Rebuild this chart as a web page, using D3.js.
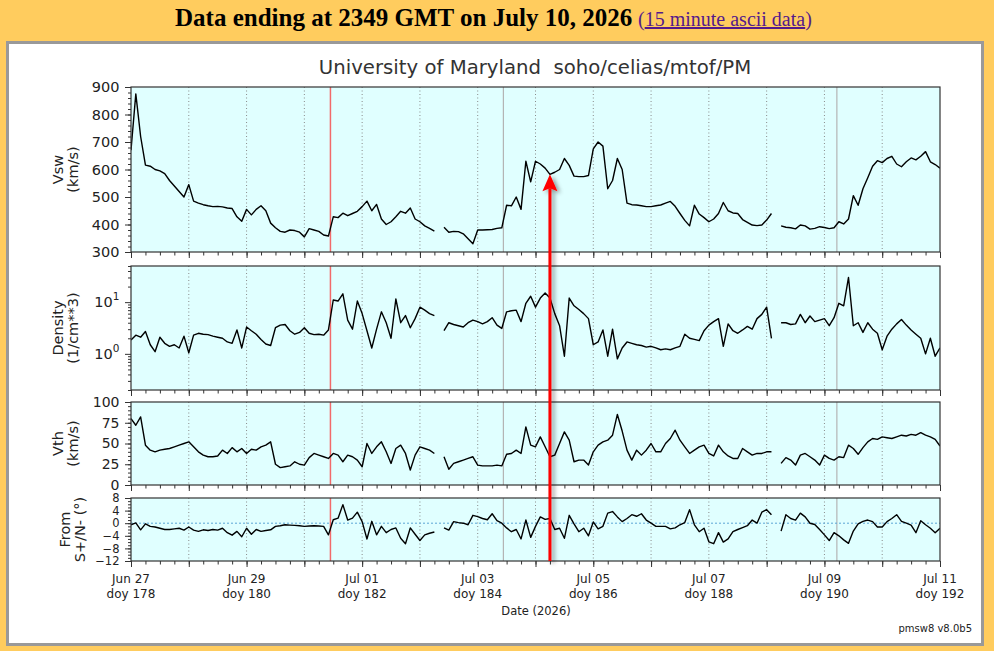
<!DOCTYPE html>
<html>
<head>
<meta charset="utf-8">
<script src="https://cdn.jsdelivr.net/npm/d3@7"></script>
<style>
  body { margin: 0; background: #ffcc5e; }
  svg { display: block; }
  text { font-family: "DejaVu Sans", sans-serif; }
</style>
</head>
<body>
<svg id="chart" width="994" height="651"></svg>
<script>
// 2-hour samples starting Jun 27 2026 00:00 UTC (169 points, up to Jul 11 00:00)
const startTime = Date.UTC(2026, 5, 27);
const endTime = Date.UTC(2026, 6, 11);
const stepHours = 2;

const vswValues = [
  670, 875, 720, 616, 612, 600, 595, 585, 560, 540, 520, 500,
  545, 485, 478, 472, 468, 465, 466, 464, 460, 458, 428, 412,
  455, 435, 455, 468, 450, 405, 388, 375, 372, 380, 378, 372,
  355, 385, 380, 375, 362, 358, 428, 425, 441, 432, 440, 448,
  465, 485, 450, 473, 420, 400, 410, 428, 448, 441, 460, 420,
  410, 395, 386, 376, null, 390, 372, 375, 374, 366, 348, 330,
  380, 380, 381, 382, 386, 388, 470, 468, 500, 455, 630, 555,
  630, 620, 605, 582, 590, 600, 640, 615, 576, 574, 574, 578,
  675, 700, 685, 530, 560, 640, 600, 478, 472, 471, 468, 465,
  465, 468, 471, 478, 484, 466, 440, 415, 395, 470, 438, 425,
  410, 420, 440, 480, 450, 442, 440, 418, 408, 398, 396, 398,
  416, 440, null, 395, 390, 388, 384, 398, 395, 383, 386, 392,
  389, 385, 388, 410, 402, 420, 505, 470, 530, 570, 612, 632,
  625, 640, 648, 620, 610, 628, 642, 635, 648, 665, 628, 618, 605
];

const densityValues = [
  1.85, 2.3, 2.1, 2.7, 1.5, 1.1, 2.1, 1.6, 1.4, 1.5, 1.3, 2.2,
  1.05, 2.3, 2.5, 2.4, 2.35, 2.2, 2.1, 2.0, 1.7, 1.6, 2.9, 1.3,
  3.3, 2.8, 2.4, 1.9, 1.55, 1.45, 3.2, 3.6, 3.7, 2.8, 2.4, 2.6,
  3.2, 2.5, 2.35, 2.4, 2.3, 2.9, 11, 10.5, 14.5, 4.5, 3.0, 10.5,
  6.0, 2.8, 1.3, 3.0, 6.5, 4.0, 2.0, 11.5, 4.0, 5.5, 3.2, 4.8,
  8.0, 7.0, 6.0, 5.5, null, 2.8, 4.0, 3.7, 3.5, 3.3, 4.0, 4.5,
  4.2, 3.8, 4.2, 5.0, 3.6, 3.1, 6.5, 6.8, 7.0, 4.2, 9.5, 13,
  8.0, 12, 15, 12, 6.0, 3.5, 0.9, 12, 8.5, 7.2, 6.0, 4.8,
  1.5, 1.7, 2.9, 0.9, 3.0, 0.8, 1.3, 1.7, 1.6, 1.5, 1.45, 1.35,
  1.4, 1.3, 1.2, 1.25, 1.2, 1.3, 1.4, 2.4, 2.0, 1.9, 1.8, 2.8,
  3.6, 4.2, 4.8, 1.4, 3.8, 2.8, 2.5, 2.9, 3.4, 3.0, 4.8, 5.8,
  8.0, 2.0, null, 4.0, 4.0, 3.7, 3.8, 5.8, 4.0, 5.4, 4.2, 4.5,
  4.8, 3.5, 5.0, 9.5, 8.5, 30, 3.5, 4.0, 2.6, 4.0, 3.0, 2.5,
  1.2, 2.2, 3.0, 3.8, 4.6, 3.6, 2.9, 2.4, 2.0, 1.0, 2.0, 0.9, 1.3
];

const vthValues = [
  80, 72, 82, 48, 42, 40, 42, 43, 44, 46, 48, 50,
  52, 46, 40, 36, 34, 34, 35, 42, 38, 45, 40, 44,
  38, 43, 42, 46, 48, 52, 25, 21, 22, 23, 28, 25,
  24, 33, 38, 36, 34, 32, 38, 36, 28, 36, 34, 30,
  22, 50, 38, 46, 52, 40, 26, 44, 48, 38, 18, 36,
  46, 44, 42, 38, null, 34, 19, 26, 28, 30, 32, 34,
  24, 23, 23, 23, 24, 23, 37, 38, 42, 38, 70, 48,
  46, 58, 46, 34, 36, 50, 64, 54, 28, 30, 30, 24,
  40, 48, 52, 54, 60, 85, 65, 42, 30, 42, 36, 42,
  50, 40, 40, 50, 56, 66, 54, 46, 38, 42, 46, 48,
  38, 35, 48, 40, 35, 32, 32, 44, 40, 36, 38, 38,
  40, 40, null, 26, 33, 30, 24, 36, 38, 34, 30, 24,
  36, 32, 30, 34, 33, 48, 44, 37, 45, 52, 56, 55,
  58, 57, 56, 58, 60, 59, 61, 60, 63, 60, 58, 55, 47
];

const angleValues = [
  -0.5, 0.1, -2.1, -0.2, -1.0, -1.2, -1.6, -2.0, -2.0, -1.8, -1.6, -2.2,
  -1.2, -2.2, -2.6, -2.1, -2.3, -2.0, -2.2, -1.6, -3.0, -3.8, -2.6, -4.3,
  -1.6, -3.5, -2.0, -2.6, -2.3, -2.1, -1.0, -0.8, -0.5, -0.6, -0.7, -0.8,
  -1.0, -0.9, -0.8, -0.9, -1.0, -3.7, 1.1, 1.6, 5.9, 1.0, 1.6, 3.5,
  0.5, -5.0, 0.6, -3.7, -1.0, -3.0, -2.0, -1.5, -4.8, -6.5, -1.5, -3.5,
  -5.5, -3.7, -3.2, -2.8, null, -1.5, -2.2, 0.5, 0.2, 0, -0.5, 2.5,
  2.1, 1.5, 1.1, 3.0, 0.8, 0, -1.5, -2.7, -2.0, -5.0, 1.0, -4.5,
  -1.0, 2.0, 1.2, 1.5, -2.0, -1.6, -4.8, 2.5, -0.2, -2.7, -1.6, -4.0,
  0.4, -1.8, -1.0, 3.2, 3.7, 2.0, 0.5, 1.5, 2.7, 2.2, 3.0, 1.0,
  0, -1.0, -1.0, -1.0, -1.8, -1.5, -0.5, 0.2, 4.3, -0.5, -2.7, -1.6,
  -5.9, -6.5, -3.0, -6.0, -5.0, -2.7, -2.0, -1.4, -0.8, 1.0, 0, 3.5,
  4.3, 2.7, null, -2.5, 2.7, 1.5, 1.0, 3.2, 2.0, 0, -0.4, -2.0,
  -3.7, -5.5, -3.0, -4.0, -5.3, -6.4, -2.5, -0.2, 0.6, 1.0, 0.5, -1.2,
  -1.2, 0.5, 1.5, 2.7, 0.6, 0, -0.6, -3.0, 0.8, -0.5, -1.6, -3.0, -1.6
];

// y axis ticks
const vswTicks = [300, 400, 500, 600, 700, 800, 900];
const densityTicks = [1, 10];
const vthTicks = [0, 25, 50, 75, 100];
const angleTicks = [-12, -8, -4, 0, 4, 8];

// event markers
const redLineTime = Date.UTC(2026, 5, 30, 10, 50);
const grayLineTimes = [Date.UTC(2026, 6, 3, 10, 40), Date.UTC(2026, 6, 9, 5, 10)];
const arrowTime = Date.UTC(2026, 6, 4, 6, 0);
const arrowValue = 583;

const svg = d3.select('#chart');
const left = 131, right = 940;

const x = d3.scaleUtc()
  .domain([new Date(startTime), new Date(endTime)])
  .range([left, right]);

function toPoints(values) {
  return values.map((v, i) => ({ t: new Date(startTime + i * stepHours * 3600e3), v: v }));
}

const panels = [
  { values: vswValues, y: d3.scaleLinear().domain([300, 900]).range([252, 87]),
    ticks: vswTicks, minor: d3.range(300, 901, 20), fmt: d => d, tickFont: 14.5,
    labels: ['Vsw', '(km/s)'], labelX: [62.5, 78] },
  { values: densityValues, y: d3.scaleLog().domain([0.2, 50]).range([390, 266]),
    ticks: densityTicks,
    minor: d3.range(2, 10).map(v => v / 10).concat(d3.range(2, 10), [20, 30, 40, 50]),
    fmt: null, tickFont: 14.5, labels: ['Density', '(1/cm**3)'], labelX: [62.5, 78] },
  { values: vthValues, y: d3.scaleLinear().domain([0, 100]).range([485, 402]),
    ticks: vthTicks, minor: d3.range(0, 101, 5), fmt: d => d, tickFont: 14,
    labels: ['Vth', '(km/s)'], labelX: [62.5, 78] },
  { values: angleValues, y: d3.scaleLinear().domain([-12, 8]).range([561, 498]),
    ticks: angleTicks, minor: d3.range(-12, 9, 1), fmt: d => d < 0 ? '\u2212' + Math.abs(d) : d,
    tickFont: 11.5, labels: ['From', 'S+/N- (\u00b0)'], labelX: [70, 84.5], zeroLine: true }
];

// defs: clip paths and arrow shadow
const defs = svg.append('defs');
const shadow = defs.append('filter').attr('id', 'shadow')
  .attr('x', '-50%').attr('y', '-10%').attr('width', '200%').attr('height', '120%');
shadow.append('feDropShadow')
  .attr('dx', 3).attr('dy', 2).attr('stdDeviation', 2)
  .attr('flood-color', '#000').attr('flood-opacity', 0.4);

// page title
svg.append('text')
  .attr('x', 175).attr('y', 26)
  .style('font-family', '"Liberation Serif", "Times New Roman", serif')
  .style('font-weight', 'bold')
  .style('font-size', '25px')
  .attr('fill', '#000')
  .text('Data ending at 2349 GMT on July 10, 2026');

const sub = svg.append('text')
  .attr('x', 638).attr('y', 26)
  .style('font-family', '"Liberation Serif", "Times New Roman", serif')
  .style('font-size', '20px')
  .attr('fill', '#551a8b');
sub.append('tspan').text('(');
sub.append('tspan').style('text-decoration', 'underline').text('15 minute ascii data');
sub.append('tspan').text(')');

// white image box
svg.append('rect')
  .attr('x', 7.5).attr('y', 42.5).attr('width', 975).attr('height', 602)
  .attr('fill', '#fff').attr('stroke', '#999').attr('stroke-width', 3);

svg.append('text')
  .attr('x', 535).attr('y', 74)
  .attr('text-anchor', 'middle')
  .style('font-size', '19.7px')
  .style('white-space', 'pre')
  .attr('fill', '#333')
  .text('University of Maryland  soho/celias/mtof/PM');

const line = d3.line()
  .defined(d => d.v != null)
  .x(d => x(d.t));

const dayTicks = d3.utcDay.range(new Date(startTime), new Date(endTime + 1));
const sixHourTicks = d3.utcHour.every(6).range(new Date(startTime), new Date(endTime + 1));

panels.forEach((p, k) => {
  const [y0, y1] = p.y.range();
  const top = y1, bottom = y0, h = bottom - top;
  const g = svg.append('g');

  defs.append('clipPath').attr('id', 'clip' + k)
    .append('rect').attr('x', left).attr('y', top).attr('width', right - left).attr('height', h);

  g.append('rect')
    .attr('x', left).attr('y', top).attr('width', right - left).attr('height', h)
    .attr('fill', '#e0ffff');

  // daily dotted grid
  g.selectAll('.grid')
    .data(dayTicks.slice(1, -1))
    .join('line')
    .attr('x1', d => x(d)).attr('x2', d => x(d))
    .attr('y1', top).attr('y2', bottom)
    .attr('stroke', '#8a8a8a').attr('stroke-width', 1)
    .attr('stroke-dasharray', '1,2.5');

  // event lines
  g.selectAll('.gray')
    .data(grayLineTimes)
    .join('line')
    .attr('x1', d => x(new Date(d))).attr('x2', d => x(new Date(d)))
    .attr('y1', top).attr('y2', bottom)
    .attr('stroke', '#b4b4b4').attr('stroke-width', 1.2);

  g.append('line')
    .attr('x1', x(new Date(redLineTime))).attr('x2', x(new Date(redLineTime)))
    .attr('y1', top).attr('y2', bottom)
    .attr('stroke', '#f26a6a').attr('stroke-width', 1.5);

  if (p.zeroLine) {
    g.append('line')
      .attr('x1', left).attr('x2', right)
      .attr('y1', p.y(0)).attr('y2', p.y(0))
      .attr('stroke', '#5aa6d6').attr('stroke-width', 1)
      .attr('stroke-dasharray', '2,2');
  }

  g.append('path')
    .datum(toPoints(p.values))
    .attr('clip-path', `url(#clip${k})`)
    .attr('fill', 'none')
    .attr('stroke', '#000')
    .attr('stroke-width', 1.4)
    .attr('stroke-linejoin', 'round')
    .attr('d', line.y(d => p.y(d.v)));

  g.append('rect')
    .attr('x', left).attr('y', top).attr('width', right - left).attr('height', h)
    .attr('fill', 'none').attr('stroke', '#333').attr('stroke-width', 1.2);

  // y axis
  const yMinor = g.append('g')
    .attr('transform', `translate(${left},0)`)
    .call(d3.axisLeft(p.y).tickValues(p.minor).tickSize(3).tickFormat(''));
  yMinor.select('.domain').remove();

  const yAxis = g.append('g')
    .attr('transform', `translate(${left},0)`)
    .call(d3.axisLeft(p.y).tickValues(p.ticks).tickSize(6).tickPadding(5.5)
      .tickFormat(p.fmt ? p.fmt : () => ''));
  yAxis.select('.domain').remove();
  yAxis.selectAll('text')
    .attr('font-family', '"DejaVu Sans", sans-serif')
    .attr('font-size', p.tickFont)
    .attr('fill', '#222');
  if (!p.fmt) {
    yAxis.selectAll('.tick text').each(function (d) {
      const t = d3.select(this).text('10');
      t.append('tspan').attr('dy', -7).attr('font-size', 10.5).text(Math.round(Math.log10(d)));
    });
  }

  // x ticks at the bottom of every panel
  const xMinor = g.append('g')
    .attr('transform', `translate(0,${bottom})`)
    .call(d3.axisBottom(x).tickValues(sixHourTicks).tickSize(3.5).tickFormat(''));
  xMinor.select('.domain').remove();
  const xMajor = g.append('g')
    .attr('transform', `translate(0,${bottom})`)
    .call(d3.axisBottom(x).tickValues(dayTicks).tickSize(6).tickFormat(''));
  xMajor.select('.domain').remove();

  g.selectAll('.tick line').attr('stroke', '#333');

  // axis label, two rotated lines
  const cy = (top + bottom) / 2;
  p.labels.forEach((txt, j) => {
    g.append('text')
      .attr('transform', `translate(${p.labelX[j]},${cy}) rotate(-90)`)
      .attr('text-anchor', 'middle')
      .style('font-size', '14.5px')
      .attr('fill', '#222')
      .text(txt);
  });
});

// date labels under the last panel
const labelDays = dayTicks.filter((d, i) => i % 2 === 0);
const fmtDay = d3.utcFormat('%b %d');
const fmtDoy = d3.utcFormat('doy %j');
const xl = svg.append('g');
xl.selectAll('.d1').data(labelDays).join('text')
  .attr('x', d => x(d)).attr('y', 583)
  .attr('text-anchor', 'middle').style('font-size', '12px').attr('fill', '#222')
  .text(fmtDay);
xl.selectAll('.d2').data(labelDays).join('text')
  .attr('x', d => x(d)).attr('y', 598)
  .attr('text-anchor', 'middle').style('font-size', '12px').attr('fill', '#222')
  .text(fmtDoy);

svg.append('text')
  .attr('x', 536).attr('y', 615)
  .attr('text-anchor', 'middle').style('font-size', '11.5px').attr('fill', '#222')
  .text('Date (2026)');

svg.append('text')
  .attr('x', 972).attr('y', 632)
  .attr('text-anchor', 'end').style('font-size', '10px').attr('fill', '#222')
  .text('pmsw8 v8.0b5');

// red arrow pointing at the solar wind speed trace
const ax = x(new Date(arrowTime));
const tipY = panels[0].y(arrowValue);
const bottomY = panels[3].y.range()[0];
const arrow = svg.append('g').attr('filter', 'url(#shadow)');
arrow.append('line')
  .attr('x1', ax).attr('x2', ax)
  .attr('y1', bottomY).attr('y2', tipY + 14)
  .attr('stroke', '#ff0000').attr('stroke-width', 3);
arrow.append('path')
  .attr('d', `M${ax},${tipY}L${ax - 7.5},${tipY + 17}L${ax},${tipY + 14}L${ax + 7.5},${tipY + 17}Z`)
  .attr('fill', '#ff0000');
</script>
</body>
</html>
